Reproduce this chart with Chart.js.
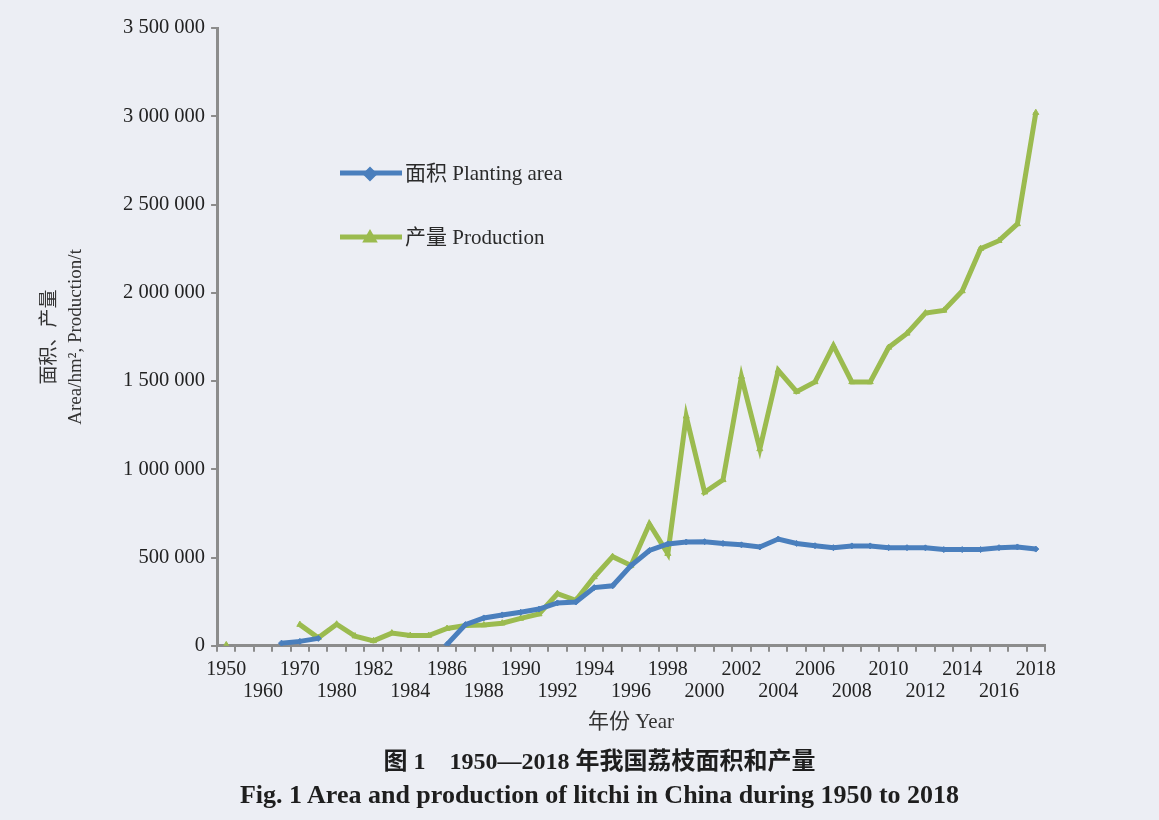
<!DOCTYPE html>
<html>
<head>
<meta charset="utf-8">
<script src="https://cdn.jsdelivr.net/npm/chart.js@4.4.1/dist/chart.umd.min.js"></script>
<style>
  body { margin: 0; background: #eceef4; }
  #wrap { position: relative; width: 1159px; height: 820px; }
  .cap { position: absolute; left: 20px; width: 1159px; text-align: center; line-height: 1.15;
         font-family: 'Liberation Serif', 'Noto Sans CJK SC', serif; font-weight: bold; color: #1e1e1e; }
</style>
</head>
<body>
<div id="wrap">
  <canvas id="litchiChart" width="1159" height="820"></canvas>
  <div class="cap" style="top:748px;font-size:24px">图 1&nbsp;&nbsp;&nbsp;&nbsp;1950—2018 年我国荔枝面积和产量</div>
  <div class="cap" style="top:780px;font-size:26px">Fig. 1 Area and production of litchi in China during 1950 to 2018</div>
</div>
<script>
// years on the category axis (odd entries are not labelled)
const years = ['1950', '1955', '1960', '1965', '1970', '1975',
    '1980', '1981', '1982', '1983', '1984', '1985', '1986', '1987', '1988', '1989',
    '1990', '1991', '1992', '1993', '1994', '1995', '1996', '1997', '1998', '1999',
    '2000', '2001', '2002', '2003', '2004', '2005', '2006', '2007', '2008', '2009',
    '2010', '2011', '2012', '2013', '2014', '2015', '2016', '2017', '2018'];

// planting area, hm2
const plantingArea = [null, null, null, 15000, 25000, 42000,
    null, null, null, null, null, null, 8000, 120000, 158000, 175000,
    190000, 208000, 243000, 248000, 330000, 340000, 455000, 540000, 577000, 588000,
    590000, 580000, 572000, 560000, 605000, 580000, 567000, 556000, 566000, 566000,
    556000, 556000, 555000, 545000, 545000, 545000, 556000, 560000, 548000];

// production, t
const production = [5000, null, null, null, 120000, 45000,
    122000, 55000, 28000, 72000, 58000, 58000, 98000, 115000, 118000, 128000,
    155000, 180000, 295000, 258000, 390000, 505000, 455000, 690000, 522000, 1300000,
    870000, 940000, 1525000, 1115000, 1560000, 1440000, 1495000, 1700000, 1495000, 1495000,
    1690000, 1770000, 1885000, 1900000, 2010000, 2250000, 2295000, 2390000, 3020000];

const yTicks = [0, 500000, 1000000, 1500000, 2000000, 2500000, 3000000, 3500000];

const serif = "'Liberation Serif', 'Noto Sans CJK SC', serif";
const blue = '#4a7fbd';
const green = '#9bbb4f';
const axisGrey = '#8c8c8c';

function spaced(n) {
    return String(n).replace(/\B(?=(\d{3})+(?!\d))/g, ' ');
}

// legend drawn inside the plot, like the original
const innerLegend = {
    id: 'innerLegend',
    afterDraw(chart) {
        const ctx = chart.ctx;
        const items = [
            { text: '面积 Planting area', color: blue, style: 'rectRot', y: 173 },
            { text: '产量 Production', color: green, style: 'triangle', y: 237 }
        ];
        ctx.save();
        items.forEach(function(it) {
            ctx.strokeStyle = it.color;
            ctx.lineWidth = 5;
            ctx.beginPath();
            ctx.moveTo(340, it.y);
            ctx.lineTo(402, it.y);
            ctx.stroke();
            Chart.helpers.drawPoint(ctx, { pointStyle: it.style, radius: 4, borderWidth: 1 }, 370, it.y + 1);
            ctx.fillStyle = it.color;
            ctx.fill();
            ctx.fillStyle = '#2a2a2a';
            ctx.font = '21px ' + serif;
            ctx.textBaseline = 'middle';
            ctx.fillText(it.text, 405, it.y + 1);
        });
        ctx.restore();
    }
};

new Chart(document.getElementById('litchiChart'), {
    type: 'line',
    data: {
        labels: years,
        datasets: [{
            label: '面积 Planting area',
            data: plantingArea,
            borderColor: blue,
            backgroundColor: blue,
            borderWidth: 5,
            pointStyle: 'rectRot',
            pointRadius: 3,
            pointBorderWidth: 1,
            tension: 0
        }, {
            label: '产量 Production',
            data: production,
            borderColor: green,
            backgroundColor: green,
            borderWidth: 5,
            pointStyle: 'triangle',
            pointRadius: 3.5,
            pointBorderWidth: 1,
            tension: 0
        }]
    },
    options: {
        responsive: false,
        animation: false,
        layout: { padding: { left: 30, right: 114, top: 28, bottom: 85 } },
        plugins: {
            legend: { display: false },
            tooltip: { enabled: false }
        },
        scales: {
            x: {
                offset: true,
                grid: { offset: true, drawOnChartArea: false, tickLength: 6, color: axisGrey, lineWidth: 2 },
                border: { color: axisGrey, width: 3 },
                ticks: {
                    autoSkip: false,
                    maxRotation: 0,
                    minRotation: 0,
                    padding: 7,
                    color: '#222',
                    font: { family: serif, size: 20, lineHeight: 1.1 },
                    callback: function(v, i) {
                        if (i % 2 === 1) return '';
                        return i % 4 === 0 ? [years[i], ''] : ['', years[i]];
                    }
                },
                title: {
                    display: true,
                    text: '年份 Year',
                    color: '#333',
                    font: { family: serif, size: 21, lineHeight: 1.2 },
                    padding: { top: 0, bottom: 0 }
                }
            },
            y: {
                min: 0,
                max: 3500000,
                afterBuildTicks: function(axis) {
                    axis.ticks = yTicks.map(function(v) { return { value: v }; });
                },
                grid: { drawOnChartArea: false, tickLength: 6, color: axisGrey, lineWidth: 2 },
                border: { color: axisGrey, width: 3 },
                ticks: {
                    padding: 6,
                    color: '#222',
                    font: { family: serif, size: 20.5 },
                    callback: function(v) { return spaced(v); }
                },
                title: {
                    display: true,
                    text: ['面积、产量', 'Area/hm², Production/t'],
                    color: '#333',
                    font: { family: serif, size: 19, lineHeight: 1.37 },
                    padding: { top: 7, bottom: 28 }
                }
            }
        }
    },
    plugins: [innerLegend]
});
</script>
</body>
</html>
